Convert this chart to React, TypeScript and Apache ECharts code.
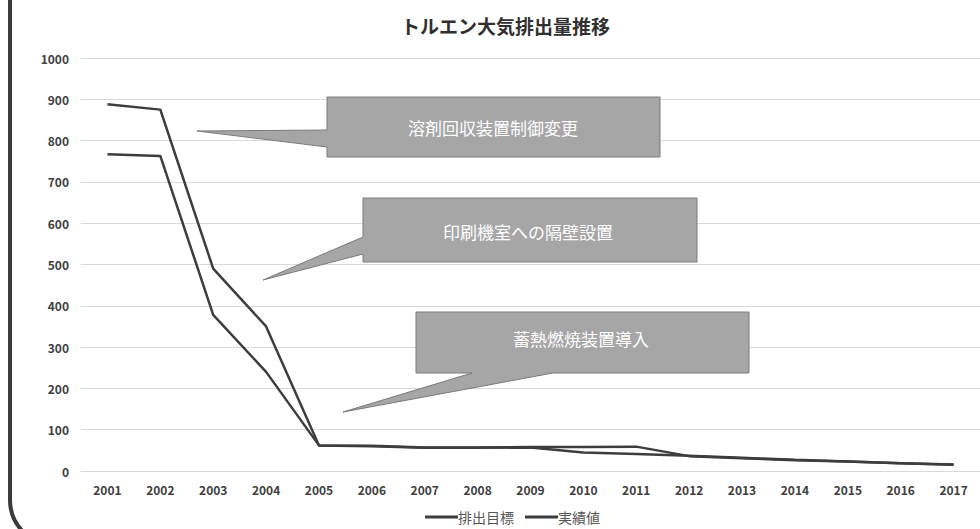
import React, { useEffect, useRef } from "react";
import * as echarts from "echarts";

const years = ["2001","2002","2003","2004","2005","2006","2007","2008","2009","2010","2011","2012","2013","2014","2015","2016","2017"];
const targetValues = [888, 875, 490, 350, 62, 61, 57, 57, 58, 58, 59, 36, 31, 26, 23, 19, 15];
const actualValues = [767, 763, 378, 240, 62, 60, 56, 56, 57, 45, 41, 37, 32, 27, 23, 19, 16];
const seriesNames = ["排出目標", "実績値"];
const titleText = "トルエン大気排出量推移";
const calloutTexts = ["溶剤回収装置制御変更", "印刷機室への隔壁設置", "蓄熱燃焼装置導入"];

const FONT = "'Noto Sans CJK JP', 'Noto Sans', sans-serif";
const LINE = "#3d3d3d";
const BOX_FILL = "#a6a6a6";
const BOX_STROKE = "#7a7a7a";

export default function App() {
  const ref = useRef<HTMLDivElement>(null);
  useEffect(() => {
    if (!ref.current) return;
    const chart = echarts.init(ref.current, null, { renderer: "svg" });
    const callout = (points: number[][], text: string, cx: number, cy: number) => [
      {
        type: "polygon",
        silent: true,
        z: 10,
        shape: { points },
        style: { fill: BOX_FILL, stroke: BOX_STROKE, lineWidth: 1 },
      },
      {
        type: "text",
        silent: true,
        z: 11,
        x: cx,
        y: cy,
        style: {
          text,
          fill: "#ffffff",
          font: `normal 17px ${FONT}`,
          align: "center",
          verticalAlign: "middle",
        },
      },
    ];
    chart.setOption({
      animation: false,
      backgroundColor: "#ffffff",
      textStyle: { fontFamily: FONT },
      grid: { left: 81, width: 901, top: 58, height: 413, containLabel: false },
      legend: {
        data: seriesNames,
        left: 425,
        top: 510,
        icon: "rect",
        itemWidth: 33,
        itemHeight: 3,
        itemGap: 11,
        padding: 0,
        textStyle: {
          fontSize: 14,
          lineHeight: 14,
          color: "#555555",
          fontFamily: FONT,
          padding: [0, 0, 0, -5],
        },
      },
      xAxis: {
        type: "category",
        data: years,
        boundaryGap: true,
        axisLine: { show: true, lineStyle: { color: "#d9d9d9", width: 1 } },
        axisTick: { show: false },
        axisLabel: { fontSize: 12, fontWeight: "bold", color: "#404040", margin: 12, fontFamily: FONT },
        splitLine: { show: false },
      },
      yAxis: {
        type: "value",
        min: 0,
        max: 1000,
        interval: 100,
        axisLine: { show: false },
        axisTick: { show: false },
        axisLabel: {
          fontSize: 12,
          fontWeight: "bold",
          color: "#404040",
          margin: 12,
          fontFamily: FONT,
          formatter: (v: number) => String(v),
        },
        splitLine: { show: true, lineStyle: { color: "#d9d9d9", width: 1 } },
      },
      series: [
        {
          name: seriesNames[0],
          type: "line",
          data: targetValues,
          showSymbol: false,
          symbol: "none",
          lineStyle: { color: LINE, width: 2.5 },
          itemStyle: { color: LINE },
        },
        {
          name: seriesNames[1],
          type: "line",
          data: actualValues,
          showSymbol: false,
          symbol: "none",
          lineStyle: { color: LINE, width: 2.5 },
          itemStyle: { color: LINE },
        },
      ],
      graphic: [
        {
          type: "text",
          silent: true,
          x: 401,
          y: 25,
          style: {
            text: titleText,
            fill: "#303030",
            font: `bold 19px ${FONT}`,
            align: "left",
            verticalAlign: "middle",
          },
        },
        {
          type: "rect",
          silent: true,
          z: 20,
          shape: { x: 10, y: -100, width: 1200, height: 645, r: 45 },
          style: { fill: "none", stroke: "#3a3a3a", lineWidth: 4 },
        },
        ...callout(
          [[327, 97], [660, 97], [660, 157], [327, 157], [327, 147], [197, 131], [327, 130]],
          calloutTexts[0], 493, 127
        ),
        ...callout(
          [[363, 198], [697, 198], [697, 262], [363, 262], [363, 254], [263, 280], [363, 237]],
          calloutTexts[1], 528, 231
        ),
        ...callout(
          [[416, 312], [749, 312], [749, 373], [553, 373], [343, 412], [472, 373], [416, 373]],
          calloutTexts[2], 581, 338
        ),
      ],
    });
    return () => chart.dispose();
  }, []);
  return (
    <div
      ref={ref}
      style={{ position: "absolute", left: 0, top: 0, width: 980, height: 529, background: "#fff" }}
    />
  );
}
